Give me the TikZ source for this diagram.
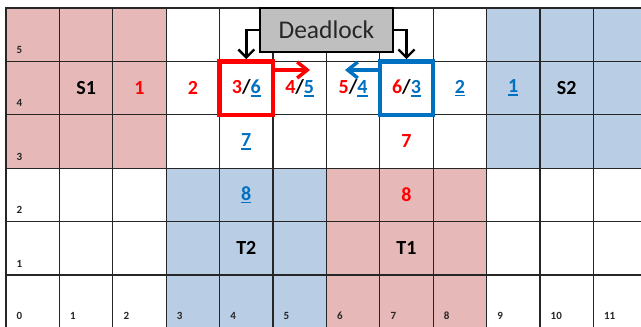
\documentclass[tikz,border=0pt]{standalone}
\usepackage{fontspec}
\setmainfont{Carlito}
\usetikzlibrary{arrows.meta,calc}
\definecolor{cpink}{HTML}{E6B9B8}
\definecolor{cblue}{HTML}{B9CDE5}
\definecolor{tred}{HTML}{FF0000}
\definecolor{tblue}{HTML}{0070C0}
\definecolor{dlgray}{HTML}{BFBFBF}
\newcommand{\R}[1]{\textcolor{tred}{#1}}
\newcommand{\B}[1]{\textcolor{tblue}{\setbox0\hbox{#1}\rlap{\rule[-3.2pt]{\wd0}{1.7pt}}\box0}}
\tikzset{
  gridline/.style={line width=1.2pt, draw=black!85},
  celltext/.style={font=\bfseries\fontsize{20}{24}\selectfont, inner sep=0pt},
  smalllabel/.style={font=\bfseries\fontsize{11}{12}\selectfont, inner sep=0pt, anchor=base west, text=black!85},
  hibox/.style={minimum width=53.4pt, minimum height=53.4pt, line width=4.5pt, inner sep=0pt},
  dlbox/.style={draw=black, line width=2.2pt, fill=dlgray, minimum width=133pt, minimum height=44pt, inner sep=0pt, font=\fontsize{25.5}{30}\selectfont, text=black!85},
  dlarrow/.style={line width=2.4pt, -{Straight Barb[length=8pt,width=16pt]}},
  movearrow/.style={line width=3.5pt, -{Straight Barb[length=10pt,width=16pt]}}
}
\begin{document}
\begin{tikzpicture}[x=1pt,y=-1pt]
\useasboundingbox (0,0) rectangle (641,327);
\clip (0,0) rectangle (641,327);
% fills
\fill[cpink] (6,8) rectangle (166.2,168.2);
\fill[cblue] (486.6,8) rectangle (646.8,168.2);
\fill[cblue] (166.2,168.2) rectangle (326.4,328.4);
\fill[cpink] (326.4,168.2) rectangle (486.6,328.4);
% grid
\foreach \i in {0,...,11} {
  \draw[gridline] ({6+53.4*\i},8) -- ({6+53.4*\i},330);
}
\foreach \j in {0,...,5} {
  \draw[gridline] (5.4,{8+53.4*\j}) -- (646.8,{8+53.4*\j});
}
% row labels
\foreach \r in {1,...,5} {
  \node[smalllabel] (rl\r) at (16.5,{8+53.4*(6-\r)-8}) {\r};
}
% column labels
\foreach \i in {0,...,11} {
  \node[smalllabel] (cl\i) at ({6+53.4*\i+10.5},319.5) {\i};
}
% cell texts row 4
\node[celltext] (s1) at (86.1,88.1) {S1};
\node[celltext] (a1) at (139.5,88.1) {\R{1}};
\node[celltext] (a2) at (192.9,88.1) {\R{2}};
\node[celltext] (a3) at (246.3,88.1) {\R{3}/\B{6}};
\node[celltext] (a4) at (299.7,88.1) {\R{4}/\B{5}};
\node[celltext] (a5) at (353.1,88.1) {\R{5}/\B{4}};
\node[celltext] (a6) at (406.5,88.1) {\R{6}/\B{3}};
\node[celltext] (b2) at (459.9,88.1) {\B{2}};
\node[celltext] (b1) at (513.3,88.1) {\B{1}};
\node[celltext] (s2) at (566.7,88.1) {S2};
% rows 3,2,1
\node[celltext] (b7) at (246.3,141.5) {\B{7}};
\node[celltext] (a7) at (406.5,141.5) {\R{7}};
\node[celltext] (b8) at (246.3,194.9) {\B{8}};
\node[celltext] (a8) at (406.5,194.9) {\R{8}};
\node[celltext] (t2) at (246.3,248.3) {T2};
\node[celltext] (t1) at (406.5,248.3) {T1};
% highlight boxes
\node[hibox, draw=tred] (rb) at (246.3,88.1) {};
\node[hibox, draw=tblue] (bb) at (406.5,88.1) {};
% move arrows
\coordinate (ra) at (310,70);
\coordinate (ba) at (345,70);
\draw[movearrow, tred] (rb.east |- ra) -- (ra);
\draw[movearrow, tblue] (bb.west |- ba) -- (ba);
% deadlock
\node[dlbox] (dl) at (326.4,30) {Deadlock};
\draw[dlarrow] (dl.west) -| (rb.north);
\draw[dlarrow] (dl.east) -| (bb.north);
\end{tikzpicture}
\end{document}
